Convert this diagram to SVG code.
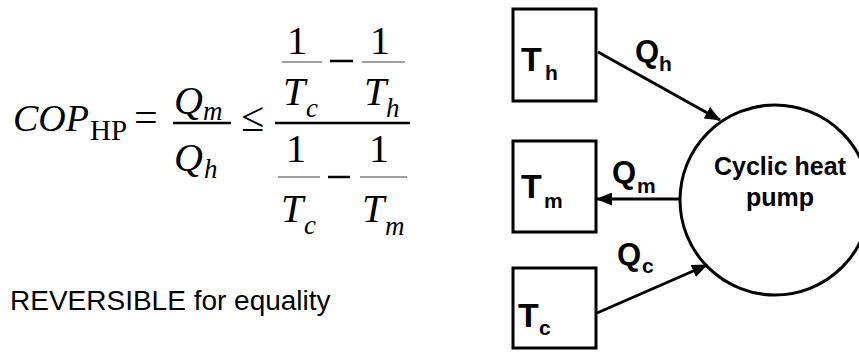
<svg xmlns="http://www.w3.org/2000/svg" width="859" height="359" viewBox="0 0 859 359">
<style>
.mi{font-family:"Liberation Serif","Times New Roman",serif;font-style:italic;fill:#000}
.mr{font-family:"Liberation Serif","Times New Roman",serif;fill:#000}
.big{font-size:40px}
.sub{font-size:27px}
.lab{font-family:"Liberation Sans",Arial,sans-serif;font-weight:bold;fill:#000}
.tb{font-size:34px}
.qb{font-size:31px}
.s{font-size:21px}
.box{fill:#fff;stroke:#000;stroke-width:3}
.conn{stroke:#000;stroke-width:3;fill:none}
.gbar{stroke:#808080;stroke-width:1.5}
.bbar{stroke:#000;stroke-width:2.5}
</style>
<defs>
<marker id="ah" viewBox="0 0 16 13" refX="15" refY="6.5" markerWidth="16" markerHeight="13" markerUnits="userSpaceOnUse" orient="auto">
<path d="M0,0 L16,6.5 L0,13 z" fill="#000"/>
</marker>
</defs>
<rect width="859" height="359" fill="#fff"/>
<g id="equation">
<text class="mi" font-size="38" x="13" y="131">COP</text>
<text class="mr" font-size="29" x="90" y="140">HP</text>
<text class="mr" font-size="42" x="134" y="131">=</text>
<text class="mi big" x="174" y="114">Q</text>
<text class="mi sub" x="203" y="120">m</text>
<line class="bbar" x1="173" y1="123" x2="231" y2="123"/>
<text class="mi big" x="174" y="171">Q</text>
<text class="mi sub" x="204" y="178">h</text>
<text class="mr" font-size="42" x="241" y="131">≤</text>
<line class="bbar" x1="275" y1="123" x2="410" y2="123"/>
<text class="mr big" x="297" y="54" text-anchor="middle">1</text>
<line class="gbar" x1="282" y1="62" x2="322" y2="62"/>
<line class="bbar" x1="330" y1="61" x2="353" y2="61"/>
<text class="mr big" x="380" y="54" text-anchor="middle">1</text>
<line class="gbar" x1="362" y1="62" x2="405" y2="62"/>
<text class="mi big" x="283" y="105">T</text>
<text class="mi sub" x="306" y="117">c</text>
<text class="mi big" x="364" y="105">T</text>
<text class="mi sub" x="386" y="117">h</text>
<text class="mr big" x="296" y="162" text-anchor="middle">1</text>
<line class="gbar" x1="278" y1="177" x2="320" y2="177"/>
<line class="bbar" x1="328" y1="177" x2="350" y2="177"/>
<text class="mr big" x="379" y="162" text-anchor="middle">1</text>
<line class="gbar" x1="360" y1="177" x2="407" y2="177"/>
<text class="mi big" x="281" y="222">T</text>
<text class="mi sub" x="304" y="234">c</text>
<text class="mi big" x="362" y="222">T</text>
<text class="mi sub" x="385" y="235">m</text>
</g>
<text id="note" x="10" y="310" font-family="Liberation Sans, Arial, sans-serif" font-size="28" fill="#000">REVERSIBLE for equality</text>
<g id="connectors">
<line class="conn" x1="598" y1="52" x2="720" y2="120" marker-end="url(#ah)"/>
<line class="conn" x1="679" y1="199" x2="597" y2="199" marker-end="url(#ah)"/>
<line class="conn" x1="597" y1="313" x2="707" y2="265" marker-end="url(#ah)"/>
</g>
<g id="Th">
<rect class="box" x="513" y="9" width="83" height="92"/>
<text class="lab tb" x="521" y="71">T</text><text class="lab s" x="545" y="80">h</text>
</g>
<g id="Tm">
<rect class="box" x="513" y="141" width="83" height="91"/>
<text class="lab tb" x="521" y="198">T</text><text class="lab s" x="544" y="208">m</text>
</g>
<g id="Tc">
<rect class="box" x="513" y="268" width="83" height="80"/>
<text class="lab tb" x="518" y="327">T</text><text class="lab s" x="539" y="335">c</text>
</g>
<g id="labels">
<text class="lab qb" x="635" y="62">Q</text><text class="lab s" x="659" y="71">h</text>
<text class="lab qb" x="612" y="183">Q</text><text class="lab s" x="637" y="193">m</text>
<text class="lab qb" x="617" y="265">Q</text><text class="lab s" x="642" y="273">c</text>
</g>
<g id="pump">
<circle cx="775" cy="200" r="95" fill="none" stroke="#000" stroke-width="3"/>
<text class="lab" font-size="25" x="780" y="175" text-anchor="middle">Cyclic heat</text>
<text class="lab" font-size="25" x="780" y="206" text-anchor="middle">pump</text>
</g>
</svg>
